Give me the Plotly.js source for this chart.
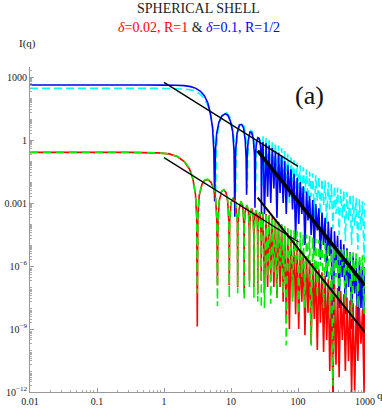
<!DOCTYPE html>
<html>
<head>
<meta charset="utf-8">
<script src="https://cdn.plot.ly/plotly-3.0.1.min.js"></script>
<style>
  html, body { margin: 0; padding: 0; background: white; }
  #plot { width: 382px; height: 410px; }
</style>
</head>
<body>
<div id="plot"></div>
<script>
// Low q part of the curves (plateau, first fringes)
let redEarlyQ = [0.01, 0.3, 0.8, 1.2, 1.6, 2.0, 2.4, 2.7, 2.95, 3.08,
    3.14, 3.2, 3.35, 3.7, 4.1, 4.5, 5.0, 5.5, 5.9, 6.15,
    6.28, 6.4, 6.7, 7.2, 7.8, 8.4, 8.9, 9.3, 9.42, 9.55,
    10.0, 10.9, 11.8, 12.45, 12.57, 12.7, 13.2, 14.1, 15.0, 15.6,
    15.71, 15.8, 16.3, 17.3, 18.2, 18.75, 18.85, 18.95, 19.5, 20.4,
    21.3, 21.9, 22.0, 22.1, 22.7, 23.6, 24.5, 25.0, 25.1, 25.2,
    25.8, 26.7, 27.6, 28.2, 28.3, 28.4];
let redEarlyI = [0.26, 0.26, 0.245, 0.22, 0.16, 0.095, 0.042, 0.014, 2.5e-3, 2e-4,
    1.3e-9, 2e-4, 2.2e-3, 8e-3, 1.25e-2, 1.3e-2, 1.0e-2, 5e-3, 1.5e-3, 1.5e-4,
    1.2e-7, 1.5e-4, 1.3e-3, 3.5e-3, 4.2e-3, 3.2e-3, 1.3e-3, 1.2e-4, 1.2e-7, 1.2e-4,
    1e-3, 1.8e-3, 1e-3, 1e-4, 1e-7, 1e-4, 5e-4, 1.15e-3, 7e-4, 8e-5,
    5e-8, 8e-5, 4e-4, 7.5e-4, 4e-4, 5e-5, 2e-7, 5e-5, 3.5e-4, 5.5e-4,
    3e-4, 3e-5, 1e-7, 3e-5, 2.5e-4, 4.2e-4, 2.5e-4, 2.5e-5, 5e-8, 2.5e-5,
    2e-4, 3.4e-4, 2e-4, 2e-5, 2e-7, 2e-5];
let greenEarlyI = [0.26, 0.26, 0.245, 0.22, 0.165, 0.1, 0.045, 0.015, 2.7e-3, 2.2e-4,
    5e-8, 2.2e-4, 2.4e-3, 8.5e-3, 1.3e-2, 1.35e-2, 1.05e-2, 5.3e-3, 1.6e-3, 1.6e-4,
    1.2e-8, 1.6e-4, 1.4e-3, 3.7e-3, 4.4e-3, 3.4e-3, 1.4e-3, 1.3e-4, 3e-8, 1.3e-4,
    1.05e-3, 1.9e-3, 1.1e-3, 1.1e-4, 5e-8, 1.1e-4, 5.5e-4, 1.25e-3, 7.5e-4, 9e-5,
    2.5e-8, 9e-5, 4.4e-4, 8.2e-4, 4.4e-4, 5.5e-5, 1e-7, 5.5e-5, 3.8e-4, 6e-4,
    3.3e-4, 3.3e-5, 3e-8, 3.3e-5, 2.8e-4, 4.6e-4, 2.8e-4, 2.8e-5, 2e-8, 2.8e-5,
    2.2e-4, 3.8e-4, 2.2e-4, 2.2e-5, 1e-8, 2.2e-5];

let blueEarlyQ = [0.01, 0.5, 1.0, 1.5, 2.0, 2.5, 3.0, 3.5, 4.0, 4.5,
    4.9, 5.3, 5.55, 5.7, 5.85, 6.1, 6.6, 7.3, 8.2, 9.0,
    9.8, 10.6, 11.1, 11.4, 11.7, 12.3, 13.3, 14.4, 15.4, 16.3,
    16.8, 17.1, 17.4, 18.0, 19.2, 20.3, 21.5, 22.4, 22.8, 23.2,
    24.0, 25.2, 26.4, 27.6, 28.2, 28.5, 28.8, 29.5];
let blueEarlyI = [420, 420, 415, 405, 390, 350, 290, 210, 130, 60,
    20, 4, 0.3, 1.2e-3, 0.3, 2, 7, 14, 18, 15,
    8, 2.5, 0.3, 2.2e-4, 0.3, 2, 5.2, 5.6, 3.8, 1,
    0.15, 2.5e-3, 0.15, 0.9, 2.4, 2.3, 1.2, 0.2, 6e-4, 0.2,
    0.8, 1.3, 1.2, 0.5, 0.1, 3e-4, 0.1, 0.5];

let cyanEarlyQ = [0.01, 0.5, 1.0, 1.5, 2.0, 2.5, 3.0, 3.5, 4.0, 4.5,
    5.0, 5.4, 5.75, 5.9, 6.05, 6.4, 7.0, 7.8, 8.6, 9.5,
    10.4, 11.1, 11.5, 11.7, 11.9, 12.4, 13.5, 14.6, 15.7, 16.6,
    17.2, 17.5, 17.8, 18.5, 19.7, 20.9, 22.0, 22.9, 23.3, 23.7,
    24.6, 25.8, 27.0, 28.2, 28.9, 29.3];
let cyanEarlyI = [290, 290, 288, 280, 270, 245, 205, 150, 95, 45,
    14, 3, 0.3, 2.5e-3, 0.3, 3, 11, 20, 20, 13,
    5, 1, 0.1, 3e-3, 0.1, 1.5, 5.5, 6.3, 4.5, 1.5,
    0.2, 5e-3, 0.2, 1.2, 2.8, 2.5, 1, 0.1, 4e-3, 0.1,
    0.9, 1.4, 1.2, 0.4, 0.05, 6e-3];

// High q part: fringes too dense to resolve, kept as top / bottom of each wiggle
let qDense = [30, 31.6, 33.4, 35.2, 37.1, 39.2, 41.3, 43.6, 46, 48.5,
    51.2, 54, 57, 60, 63.3, 66.8, 70.5, 74.4, 78.5, 82.8,
    87.3, 92.1, 97.2, 102.5, 108, 114, 120, 127, 134, 141,
    149, 157, 166, 175, 184, 194, 205, 216, 228, 241,
    254, 268, 283, 298, 315, 332, 350, 369, 390, 411,
    434, 458, 483, 509, 537, 567, 598, 631, 665, 702,
    741, 781, 824, 870, 918, 968, 1000];
let redDense = [3.6e-4, 5e-8, 3e-4, 1e-7, 2.6e-4, 3e-7, 2.2e-4, 1e-7, 1.7e-4, 3e-8,
    1.3e-4, 1e-7, 9e-5, 2e-8, 6e-5, 3e-9, 3.8e-5, 1e-9, 2.4e-5, 3e-8,
    1.6e-5, 5e-9, 1e-5, 1e-9, 6e-6, 2e-8, 4e-6, 5e-10, 2.8e-6, 6e-9,
    2e-6, 2e-10, 1.4e-6, 3e-9, 1e-6, 1e-10, 7e-7, 2e-9, 5e-7, 8e-11,
    3.5e-7, 3e-10, 2.5e-7, 1e-11, 1.8e-7, 1e-12, 1.3e-7, 2e-11, 9e-8, 5e-12,
    6.5e-8, 3e-10, 4.5e-8, 1e-11, 3.2e-8, 3e-11, 2.3e-8, 1e-12, 1.7e-8, 1e-12,
    1.3e-8, 3e-11, 1e-8, 2e-10, 8e-9, 1e-12, 6.5e-9];
let greenDense = [3.8e-4, 1e-8, 3.2e-4, 3e-7, 2.5e-4, 1.6e-8, 2e-4, 5e-7, 1.6e-4, 3e-8,
    1.25e-4, 1e-6, 1e-4, 5e-8, 8e-5, 1.7e-10, 6.3e-5, 5e-7, 5.6e-5, 2e-8,
    5e-5, 1e-6, 4.5e-5, 5e-9, 4e-5, 3e-7, 3.5e-5, 1e-8, 3.2e-5, 1e-6,
    2.8e-5, 1.6e-10, 2.5e-5, 5e-7, 2e-5, 3e-8, 1.8e-5, 1e-6, 1.6e-5, 1e-8,
    1.25e-5, 5e-7, 1.1e-5, 3e-9, 1e-5, 2e-12, 9e-6, 3e-7, 8e-6, 2e-8,
    7e-6, 1e-6, 6.3e-6, 1e-8, 5.6e-6, 5e-7, 5e-6, 3e-9, 4.5e-6, 2e-7,
    4e-6, 1e-8, 3.5e-6, 5e-7, 3.2e-6, 5e-9, 2.8e-6];
let blueDense = [0.8, 3e-4, 0.7, 2e-3, 0.55, 1e-3, 0.42, 5e-3, 0.3, 2e-4,
    0.25, 3e-3, 0.18, 1e-3, 0.1, 3e-4, 0.063, 2e-3, 0.04, 5e-4,
    0.025, 2e-5, 0.016, 1e-4, 0.01, 3e-4, 6.3e-3, 1e-5, 3.5e-3, 1.5e-4,
    2.2e-3, 3e-5, 1.4e-3, 5e-6, 9e-4, 5e-5, 5.6e-4, 2e-6, 3.5e-4, 1e-5,
    2e-4, 3e-7, 1.3e-4, 3e-6, 7e-5, 1e-12, 4.5e-5, 1e-6, 2.8e-5, 1e-8,
    1.8e-5, 3e-7, 1.1e-5, 5e-9, 7e-6, 1e-7, 4.5e-6, 1e-9, 3.2e-6, 5e-8,
    2.2e-6, 1e-10, 1.6e-6, 1e-8, 1.1e-6, 1e-11, 9e-7];
let cyanDense = [1.5, 5e-3, 1.3, 0.02, 1.15, 3e-3, 0.9, 0.03, 0.7, 4e-3,
    0.55, 0.02, 0.42, 2e-3, 0.3, 0.015, 0.22, 1e-3, 0.15, 0.01,
    0.11, 2e-3, 0.08, 5e-3, 0.063, 5e-4, 0.05, 3e-3, 0.04, 8e-4,
    0.032, 2e-3, 0.026, 2e-4, 0.021, 1.2e-3, 0.018, 3e-4, 0.014, 8e-4,
    0.012, 1e-4, 0.01, 5e-4, 8e-3, 6e-5, 6.5e-3, 3e-4, 5.5e-3, 3e-5,
    4.7e-3, 2e-4, 4e-3, 1.5e-5, 3.3e-3, 1.5e-4, 2.7e-3, 1e-5, 2.2e-3, 8e-5,
    1.8e-3, 6e-6, 1.5e-3, 5e-5, 1.2e-3, 2e-6, 1e-3];

// Power law guide lines (end points)
let guideHighQ = [1, 100];
let guideHighI = [560, 0.056];
let guideBlueQ = [25, 1000];
let guideBlueI = [0.31, 1.2e-7];
let guideLowQ = [1, 102];
let guideLowI = [0.145, 1.4e-5];
let guideRedQ = [25, 1000];
let guideRedI = [1.8e-3, 7e-10];

// Tick labels
let xTickVals = [0.01, 0.1, 1, 10, 100, 1000];
let xTickText = ['0.01', '0.1', '1', '10', '100', '1000'];
let yTickVals = [1e-12, 1e-9, 1e-6, 1e-3, 1, 1000];
let yTickText = ['10<sup>\u221212</sup>', '10<sup>\u22129</sup>', '10<sup>\u22126</sup>', '0.001', '1', '1000'];

function curve(q, I, color, dash, width) {
    return {
        x: q, y: I, type: 'scatter', mode: 'lines',
        line: {color: color, width: width, dash: dash, simplify: false},
        hoverinfo: 'skip'
    };
}

let data = [
    curve(cyanEarlyQ.concat(qDense), cyanEarlyI.concat(cyanDense), '#00ffff', '8px,4px', 1.6),
    curve(blueEarlyQ.concat(qDense), blueEarlyI.concat(blueDense), '#0000ff', 'solid', 1.6),
    curve(redEarlyQ.concat(qDense), redEarlyI.concat(redDense), '#ff0000', 'solid', 1.6),
    curve(redEarlyQ.concat(qDense), greenEarlyI.concat(greenDense), '#00ee00', '8px,5px', 1.6),
    curve(guideHighQ, guideHighI, '#000000', 'solid', 1.3),
    curve(guideLowQ, guideLowI, '#000000', 'solid', 1.3),
    curve(guideRedQ, guideRedI, '#000000', 'solid', 2),
    curve(guideBlueQ, guideBlueI, '#000000', 'solid', 3.5)
];

let axisStyle = {
    type: 'log',
    tickmode: 'array',
    ticks: 'inside', ticklen: 4, tickcolor: '#999', tickwidth: 1,
    showline: true, linecolor: '#999', linewidth: 1,
    showgrid: false, zeroline: false,
    tickfont: {size: 10, color: '#222'},
    minor: {ticks: 'inside', ticklen: 2, tickcolor: '#aaa', dtick: 'D1', showgrid: false}
};

let layout = {
    width: 382,
    height: 410,
    margin: {l: 30, r: 17, t: 67, b: 18},
    paper_bgcolor: 'white',
    plot_bgcolor: 'white',
    showlegend: false,
    font: {family: 'Liberation Serif, Times New Roman, serif', size: 10, color: '#222'},
    xaxis: Object.assign({}, axisStyle, {range: [-2, 3], tickvals: xTickVals, ticktext: xTickText}),
    yaxis: Object.assign({}, axisStyle, {range: [-12, 3.48], tickvals: yTickVals, ticktext: yTickText}),
    annotations: [
        {text: 'SPHERICAL SHELL', xref: 'paper', yref: 'paper', x: 0.504, y: 1.1785,
            showarrow: false, xanchor: 'center', yanchor: 'middle', font: {size: 14, color: '#222'}},
        {text: '<span style="color:#ff0000"><i>\u03b4</i>=0.02, R=1</span> & <span style="color:#0000ff"><i>\u03b4</i>=0.1, R=1/2</span>',
            xref: 'paper', yref: 'paper', x: 0.504, y: 1.123,
            showarrow: false, xanchor: 'center', yanchor: 'middle', font: {size: 14, color: '#222'}},
        {text: 'I(q)', xref: 'paper', yref: 'paper', x: -0.0075, y: 1.0708,
            showarrow: false, xanchor: 'center', yanchor: 'middle', font: {size: 11, color: '#222'}},
        {text: 'q', xref: 'paper', yref: 'paper', x: 1.0448, y: -0.0092,
            showarrow: false, xanchor: 'center', yanchor: 'middle', font: {size: 11, color: '#222'}},
        {text: '(a)', xref: 'paper', yref: 'paper', x: 0.833, y: 0.9108,
            showarrow: false, xanchor: 'center', yanchor: 'middle', font: {size: 26, color: '#111'}}
    ]
};

Plotly.newPlot('plot', data, layout, {staticPlot: true});
</script>
</body>
</html>
